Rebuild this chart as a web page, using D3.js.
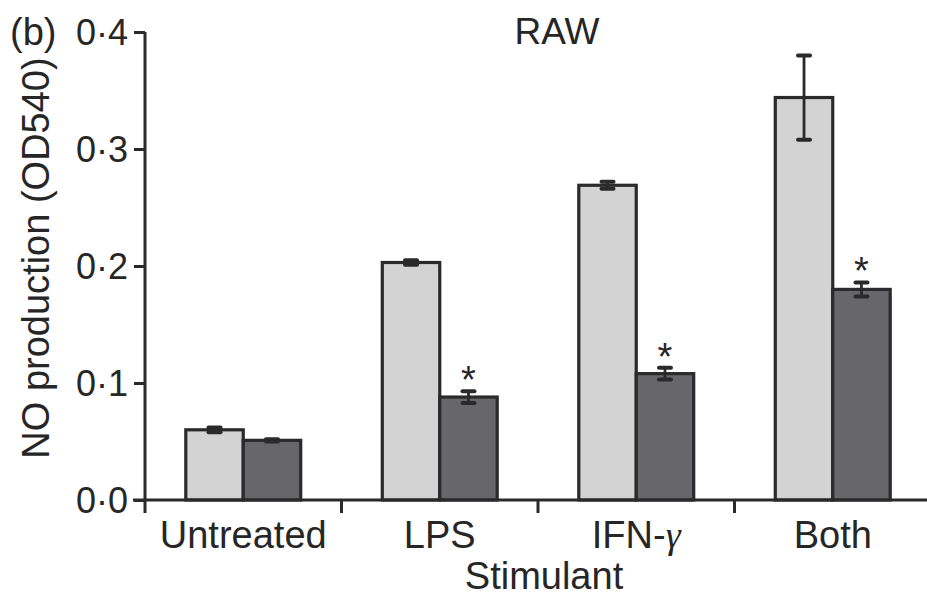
<!DOCTYPE html>
<html>
<head>
<meta charset="utf-8">
<script src="https://cdn.jsdelivr.net/npm/d3@7"></script>
<style>
  html, body { margin: 0; padding: 0; background: #fff; }
  svg { display: block; }
  text { font-family: "Liberation Sans", Arial, Helvetica, sans-serif; fill: #262626; }
</style>
</head>
<body>
<svg id="chart" width="927" height="605"></svg>
<script>
// Stimulant groups along the x axis
const categories = ["Untreated", "LPS", "IFN-γ", "Both"];
// Two series per group: untreated cells (light) vs treated cells (dark)
const seriesKeys = ["control", "treated"];
const controlValues = [0.060, 0.203, 0.269, 0.344];
const controlErrors = [0.002, 0.002, 0.003, 0.036];
const treatedValues = [0.051, 0.088, 0.108, 0.180];
const treatedErrors = [0.001, 0.005, 0.005, 0.006];
// Significance marks on the treated bars
const treatedStars = [false, true, true, true];
const yTicks = [0.0, 0.1, 0.2, 0.3, 0.4];

const seriesFill = { control: "#d3d3d3", treated: "#67666b" };
const ink = "#2a2a2a";

const svg = d3.select("#chart");

const x0 = d3.scaleBand().domain(categories).range([145, 931]).paddingInner(0).paddingOuter(0);
const x1 = d3.scaleBand().domain(seriesKeys).range([0, x0.bandwidth()]).paddingInner(0).paddingOuter(0.71);
const y = d3.scaleLinear().domain([0, 0.4]).range([500, 32]);

const rows = [];
categories.forEach((c, i) => {
  rows.push({ cat: c, key: "control", v: controlValues[i], e: controlErrors[i], star: false });
  rows.push({ cat: c, key: "treated", v: treatedValues[i], e: treatedErrors[i], star: treatedStars[i] });
});

// Bars
svg.append("g").selectAll("rect").data(rows).join("rect")
  .attr("x", d => x0(d.cat) + x1(d.key))
  .attr("y", d => y(d.v))
  .attr("width", x1.bandwidth())
  .attr("height", d => y(0) - y(d.v))
  .attr("fill", d => seriesFill[d.key])
  .attr("stroke", ink)
  .attr("stroke-width", 3.2);

// Error bars
const eb = svg.append("g").selectAll("g").data(rows).join("g")
  .attr("transform", d => `translate(${x0(d.cat) + x1(d.key) + x1.bandwidth() / 2},0)`);
eb.append("line")
  .attr("y1", d => y(d.v - d.e)).attr("y2", d => y(d.v + d.e))
  .attr("stroke", ink).attr("stroke-width", 2.8);
eb.selectAll("line.cap").data(d => [d.v - d.e, d.v + d.e]).join("line")
  .attr("class", "cap")
  .attr("x1", -6).attr("x2", 6)
  .attr("y1", v => y(v)).attr("y2", v => y(v))
  .attr("stroke", ink).attr("stroke-width", 4).attr("stroke-linecap", "round");

// Significance asterisks
svg.append("g").selectAll("text").data(rows.filter(d => d.star)).join("text")
  .attr("x", d => x0(d.cat) + x1(d.key) + x1.bandwidth() / 2)
  .attr("y", d => y(d.v + d.e) + 2)
  .attr("text-anchor", "middle")
  .style("font-size", "38px")
  .text("*");

// Y axis
const yAxis = svg.append("g")
  .attr("transform", "translate(145,0)")
  .call(d3.axisLeft(y).tickValues(yTicks).tickSize(11).tickPadding(6)
    .tickFormat(v => d3.format(".1f")(v).replace(".", "·")));
yAxis.select(".domain").attr("stroke", ink).attr("stroke-width", 3).attr("d", `M0,${y(0.4)}V${y(0)}`);
yAxis.selectAll(".tick line").attr("stroke", ink).attr("stroke-width", 3);
yAxis.selectAll(".tick text").style("font-size", "36px").attr("fill", "#262626")
  .attr("font-family", null).attr("dy", "0.36em");

// X axis: ticks at the group boundaries, labels at the group centres
const xAxis = svg.append("g").attr("transform", "translate(0,500)");
xAxis.append("line").attr("x1", 133).attr("x2", 927).attr("y1", 0).attr("y2", 0)
  .attr("stroke", ink).attr("stroke-width", 3);
xAxis.selectAll("line.tick").data(categories).join("line")
  .attr("class", "tick")
  .attr("x1", d => x0(d)).attr("x2", d => x0(d))
  .attr("y1", 0).attr("y2", 13)
  .attr("stroke", ink).attr("stroke-width", 3);
const catLabels = xAxis.selectAll("text.cat").data(categories).join("text")
  .attr("class", "cat")
  .attr("x", d => x0(d) + x0.bandwidth() / 2)
  .attr("y", 48)
  .attr("text-anchor", "middle")
  .style("font-size", "38px");
catLabels.each(function (d) {
  const t = d3.select(this);
  if (d.endsWith("γ")) {
    t.append("tspan").text(d.slice(0, -1));
    t.append("tspan").attr("font-family", "'Liberation Serif', 'DejaVu Serif', serif")
      .style("font-style", "italic").text("γ");
  } else {
    t.text(d);
  }
});

// Axis titles and panel labels
svg.append("text").attr("x", 544).attr("y", 589).attr("text-anchor", "middle")
  .style("font-size", "38px").text("Stimulant");
svg.append("text")
  .attr("transform", "translate(49,258) rotate(-90)")
  .attr("text-anchor", "middle")
  .style("font-size", "38px")
  .text("NO production (OD540)");
svg.append("text").attr("x", 557).attr("y", 44).attr("text-anchor", "middle")
  .style("font-size", "37px").text("RAW");
svg.append("text").attr("x", 10).attr("y", 45)
  .style("font-size", "38px").text("(b)");
</script>
</body>
</html>
